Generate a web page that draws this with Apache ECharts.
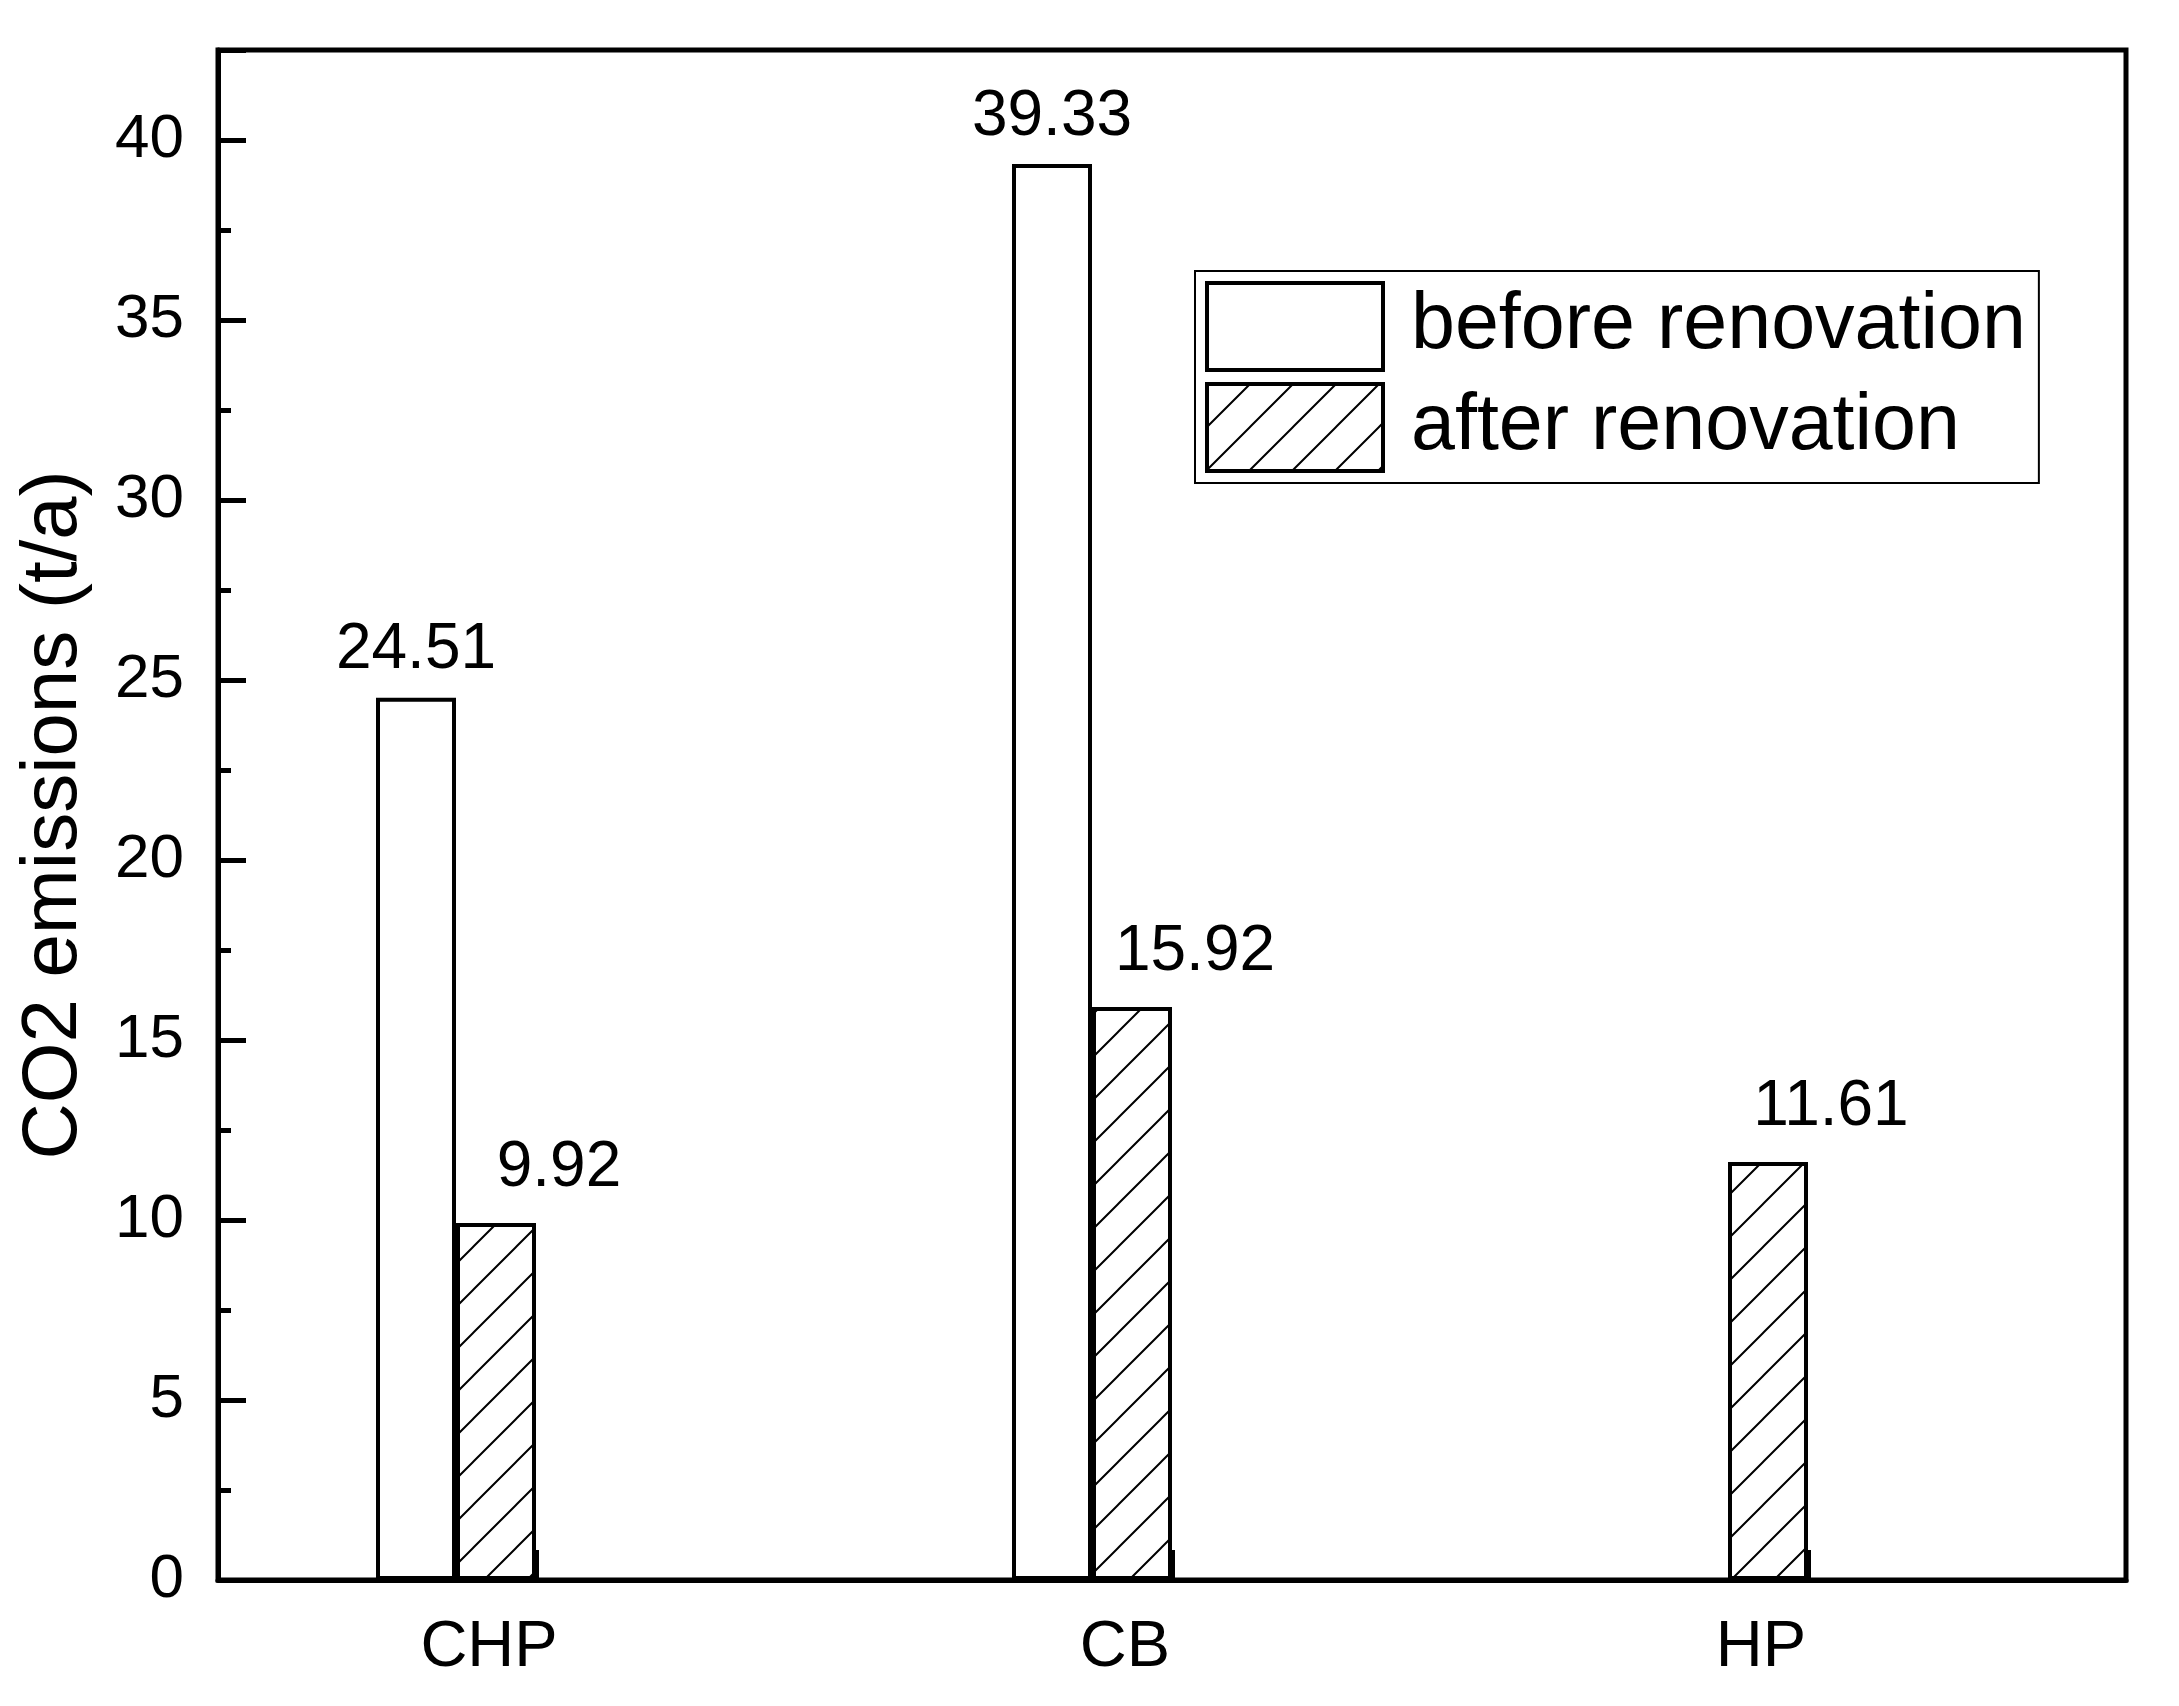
<!DOCTYPE html>
<html>
<head>
<meta charset="utf-8">
<script src="https://cdn.jsdelivr.net/npm/echarts@6/dist/echarts.min.js"></script>
<style>
  html, body { margin: 0; padding: 0; background: #fff; }
  #chart { width: 2179px; height: 1706px; }
</style>
</head>
<body>
<div id="chart"></div>
<script>
const categories = ['CHP', 'CB', 'HP'];
const beforeValues = [24.51, 39.33, null];
const afterValues = [9.92, 15.92, 11.61];
const seriesNames = ['before renovation', 'after renovation'];
const yTicks = [0, 5, 10, 15, 20, 25, 30, 35, 40];

const FONT = "'Liberation Sans', Arial, sans-serif";

// hatch "/" pattern for the after bars
function makeHatch() {
  const s = 43;
  const c = document.createElement('canvas');
  c.width = s; c.height = s;
  const ctx = c.getContext('2d');
  ctx.fillStyle = '#fff';
  ctx.fillRect(0, 0, s, s);
  ctx.strokeStyle = '#000';
  ctx.lineWidth = 2;
  ctx.beginPath();
  ctx.moveTo(0, s); ctx.lineTo(s, 0);
  ctx.moveTo(-2, 2); ctx.lineTo(2, -2);
  ctx.moveTo(s - 2, s + 2); ctx.lineTo(s + 2, s - 2);
  ctx.stroke();
  return c;
}

const chart = echarts.init(document.getElementById('chart'));
const hatch = { image: makeHatch(), repeat: 'repeat' };

const option = {
  animation: false,
  backgroundColor: '#fff',
  grid: {
    left: 218, right: 53, top: 50, bottom: 126,
    show: true, borderColor: '#000', borderWidth: 5
  },
  legend: {
    data: seriesNames,
    orient: 'vertical',
    left: 1195, top: 271,
    padding: [10, 13, 10, 10],
    icon: 'rect',
    itemWidth: 176, itemHeight: 87, itemGap: 10,
    itemStyle: { borderColor: '#000', borderWidth: 4 },
    borderColor: '#000', borderWidth: 2,
    textStyle: { fontFamily: FONT, fontSize: 79, color: '#000', padding: [0, 0, 0, 23] }
  },
  xAxis: {
    type: 'category',
    data: categories,
    axisLine: { show: true, lineStyle: { color: '#000', width: 5 } },
    axisTick: { show: true, alignWithLabel: true, inside: true, length: 30, lineStyle: { color: '#000', width: 5 } },
    axisLabel: { fontFamily: FONT, fontSize: 65, color: '#000', margin: 36, padding: [0, 94, 0, 0] },
    splitLine: { show: false }
  },
  yAxis: {
    type: 'value',
    min: 0, max: 42.5, interval: 5,
    name: 'CO2 emissions (t/a)',
    nameLocation: 'middle',
    nameGap: 125,
    nameTextStyle: { fontFamily: FONT, fontSize: 78, color: '#000' },
    axisLine: { show: true, lineStyle: { color: '#000', width: 5 } },
    axisTick: { show: true, inside: true, length: 28, lineStyle: { color: '#000', width: 5 } },
    minorTick: { show: true, splitNumber: 2, length: 13, lineStyle: { color: '#000', width: 5 } },
    axisLabel: {
      fontFamily: FONT, fontSize: 62, color: '#000', margin: 34,
      formatter: v => (yTicks.indexOf(v) >= 0 ? String(v) : '')
    },
    splitLine: { show: false }
  },
  series: [
    {
      name: seriesNames[0],
      type: 'bar',
      data: beforeValues,
      barWidth: 80,
      barGap: '0%',
      itemStyle: { color: '#fff', borderColor: '#000', borderWidth: 4 },
      label: {
        show: true, position: 'top', distance: 15,
        fontFamily: FONT, fontSize: 64, color: '#000'
      }
    },
    {
      name: seriesNames[1],
      type: 'bar',
      data: afterValues,
      barWidth: 80,
      barGap: '0%',
      itemStyle: { color: hatch, borderColor: '#000', borderWidth: 4 },
      label: {
        show: true, position: 'top', distance: 23, offset: [63, 0],
        fontFamily: FONT, fontSize: 64, color: '#000'
      }
    },
    // two empty slots so the bar pair ends at the tick, as in the original
    { name: 'pad1', type: 'bar', data: [], barWidth: 80, barGap: '0%' },
    { name: 'pad2', type: 'bar', data: [], barWidth: 80, barGap: '0%' }
  ]
};
chart.setOption(option);
</script>
</body>
</html>
